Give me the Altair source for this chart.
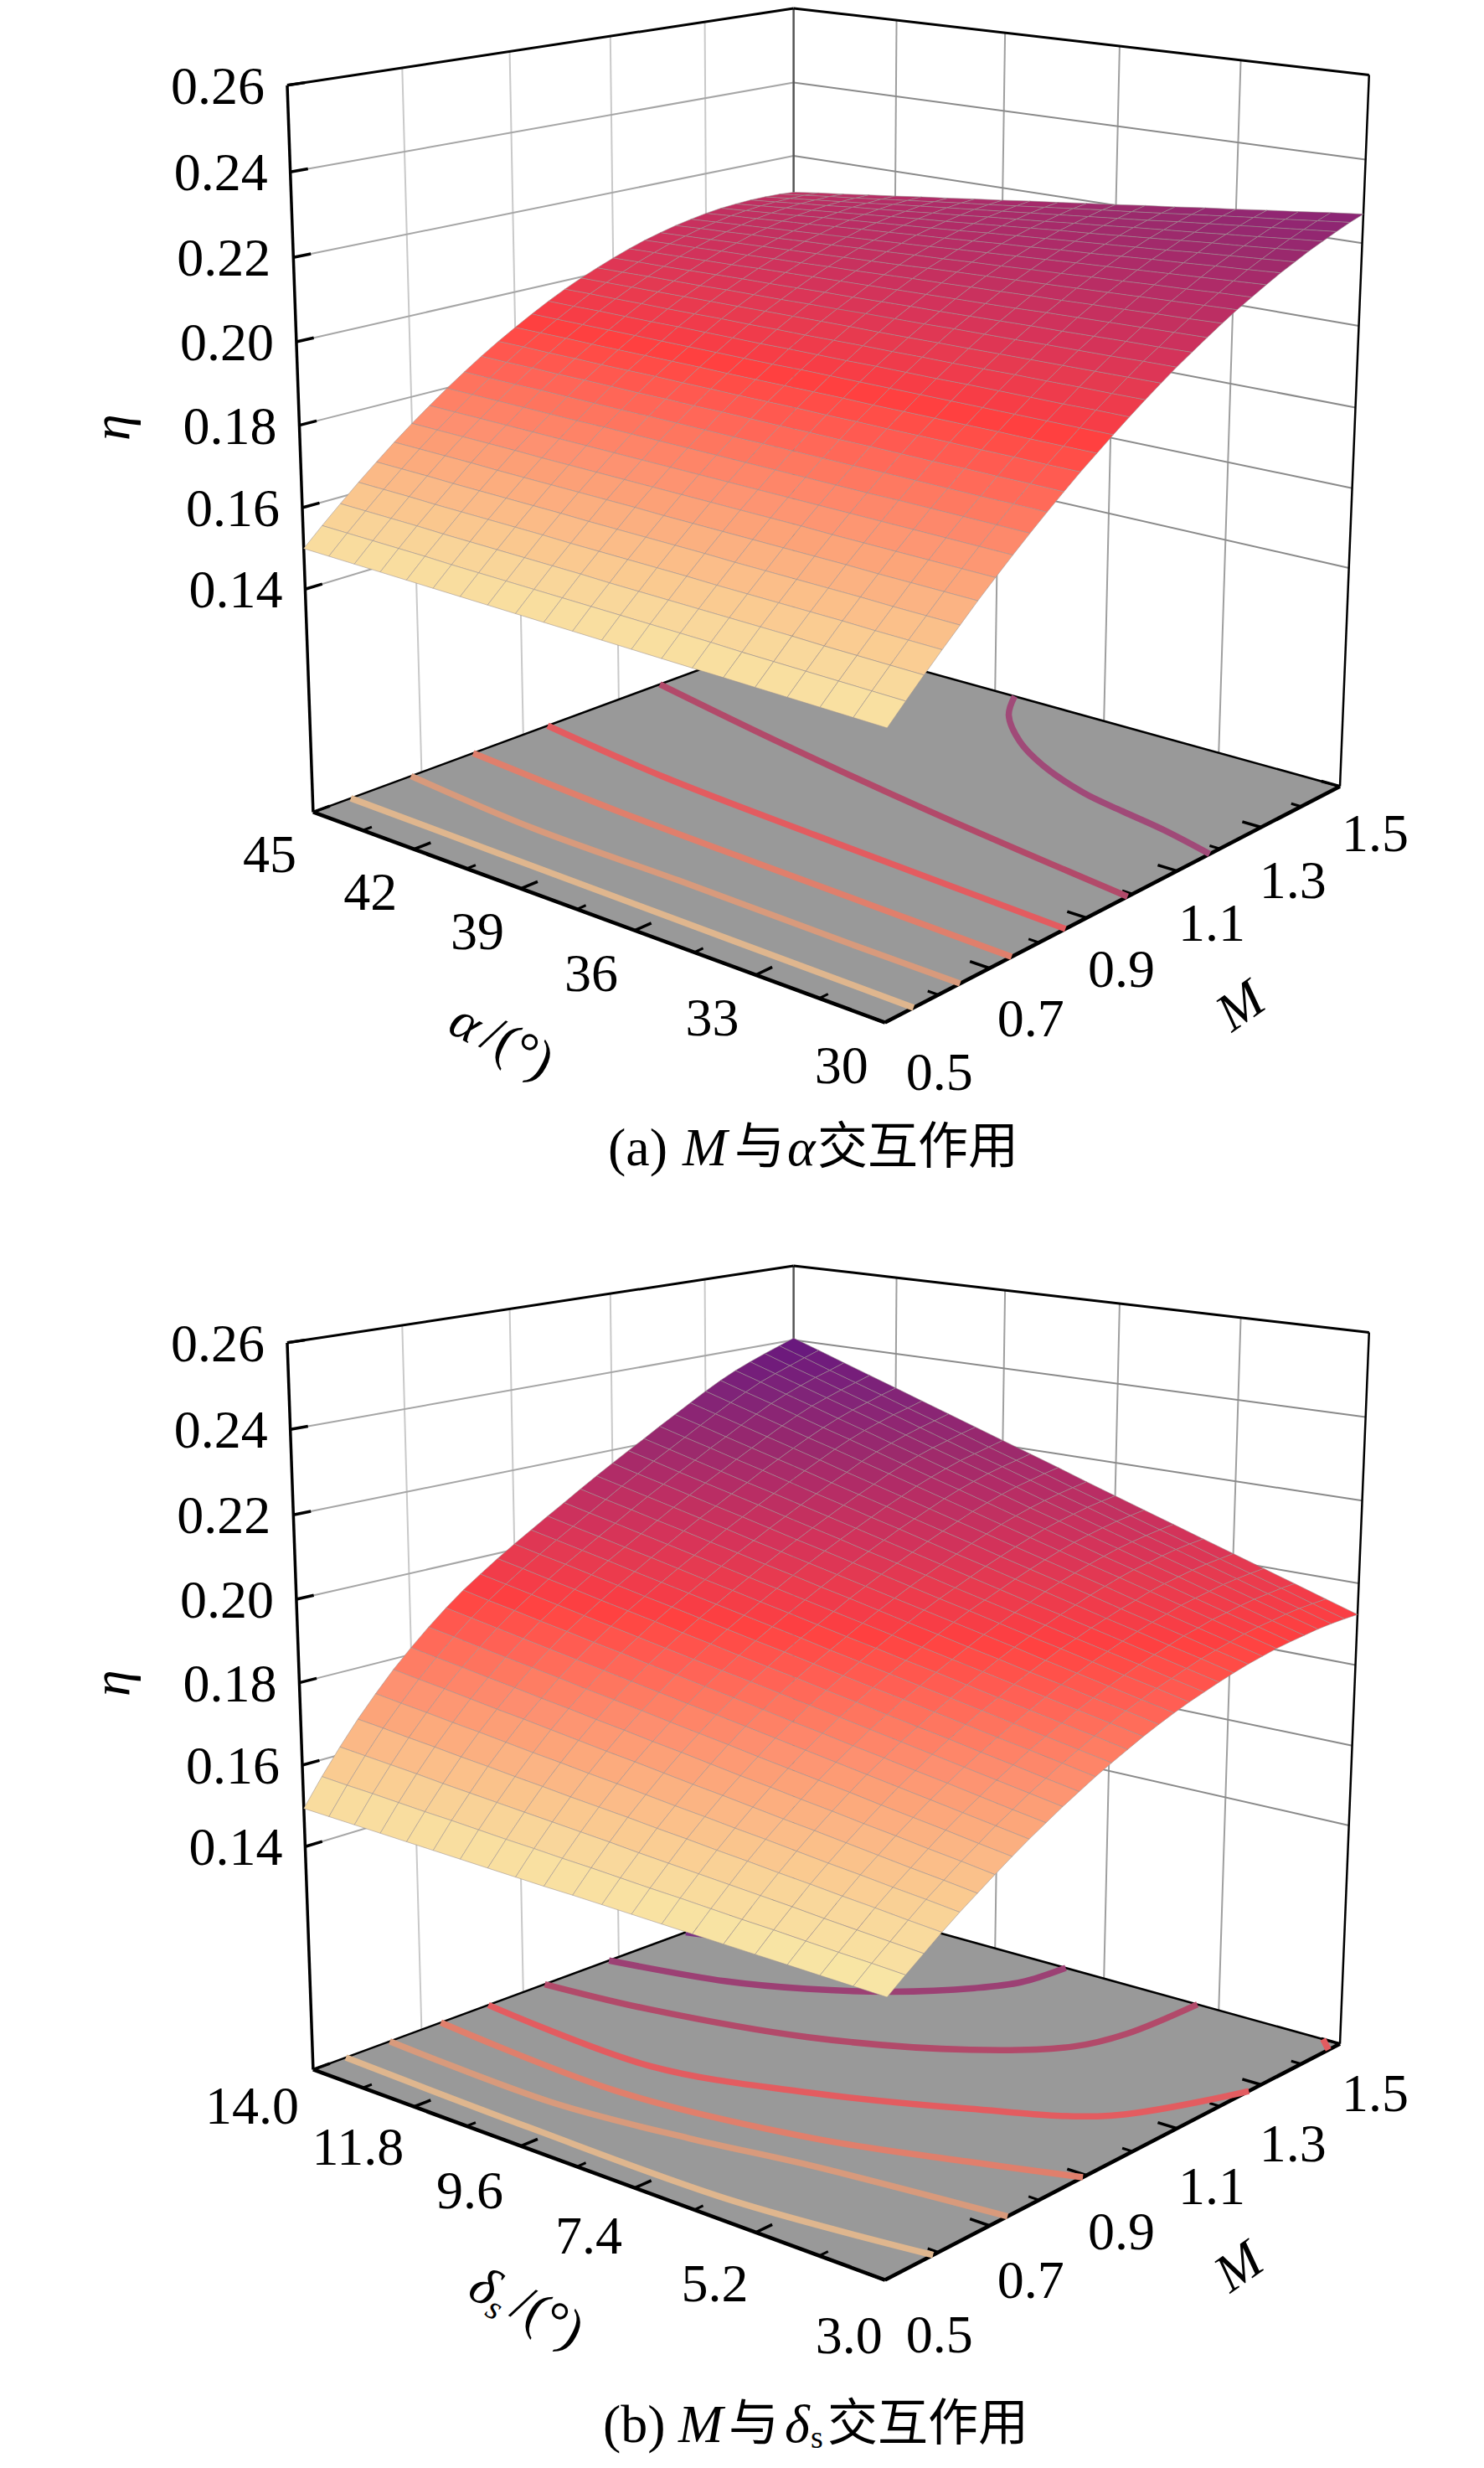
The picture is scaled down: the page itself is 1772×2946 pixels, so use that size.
import numpy as np
import pandas as pd
import altair as alt

# ---------- values ----------
ETA_TICKS = [0.14, 0.16, 0.18, 0.20, 0.22, 0.24, 0.26]
M_TICKS = [0.5, 0.7, 0.9, 1.1, 1.3, 1.5]
ALPHA_TICKS = [45, 42, 39, 36, 33, 30]
DELTA_TICKS = [14.0, 11.8, 9.6, 7.4, 5.2, 3.0]

# eta x 10000. rows: alpha 45 -> 30 (21 rows); columns: M 0.5 -> 1.5 (31 columns)
ETA_A = [
 [1500,1543,1584,1624,1662,1699,1734,1767,1799,1829,1858,1885,1910,1934,1957,1978,1997,2014,2030,2045,2058,2069,2079,2087,2094,2099,2102,2104,2104,2103,2100],
 [1499,1542,1583,1623,1661,1698,1733,1766,1798,1828,1857,1885,1910,1934,1957,1979,1998,2015,2032,2047,2061,2072,2083,2091,2099,2104,2108,2110,2111,2111,2109],
 [1498,1541,1582,1622,1660,1697,1732,1765,1797,1827,1857,1884,1910,1934,1958,1979,1999,2017,2033,2049,2063,2075,2086,2095,2103,2109,2114,2117,2118,2119,2117],
 [1497,1540,1581,1620,1658,1696,1731,1764,1796,1827,1856,1884,1909,1934,1958,1980,2000,2018,2035,2051,2066,2078,2090,2099,2108,2114,2119,2123,2125,2126,2126],
 [1496,1539,1579,1619,1657,1694,1730,1763,1795,1826,1856,1883,1909,1934,1958,1980,2001,2019,2037,2053,2068,2081,2093,2103,2112,2120,2125,2130,2132,2134,2134],
 [1495,1537,1578,1618,1656,1693,1728,1762,1794,1825,1855,1883,1909,1934,1959,1981,2002,2021,2039,2056,2071,2084,2097,2107,2117,2125,2131,2136,2140,2142,2143],
 [1494,1536,1577,1617,1655,1692,1727,1761,1794,1824,1854,1883,1909,1934,1959,1982,2003,2022,2040,2058,2073,2087,2100,2111,2122,2130,2137,2142,2147,2150,2151],
 [1493,1535,1576,1616,1654,1691,1726,1760,1793,1824,1854,1882,1909,1934,1959,1982,2004,2023,2042,2060,2076,2090,2104,2115,2126,2135,2143,2149,2154,2158,2160],
 [1492,1534,1575,1614,1652,1690,1725,1759,1792,1823,1853,1882,1908,1934,1959,1983,2005,2025,2044,2062,2078,2093,2107,2119,2131,2140,2148,2155,2161,2165,2168],
 [1491,1533,1574,1613,1651,1689,1724,1758,1791,1822,1853,1881,1908,1934,1960,1983,2006,2026,2045,2064,2081,2096,2111,2123,2135,2145,2154,2162,2168,2173,2177],
 [1490,1532,1572,1612,1650,1687,1723,1757,1790,1821,1852,1881,1908,1935,1960,1984,2007,2028,2047,2066,2084,2100,2114,2128,2140,2151,2160,2168,2175,2181,2185],
 [1489,1531,1571,1611,1649,1686,1722,1756,1789,1821,1851,1881,1908,1935,1960,1985,2007,2029,2049,2068,2086,2103,2118,2132,2145,2156,2166,2174,2182,2189,2194],
 [1488,1530,1570,1610,1648,1685,1721,1755,1788,1820,1851,1880,1908,1935,1961,1985,2008,2030,2050,2070,2089,2106,2121,2136,2149,2161,2172,2181,2189,2197,2202],
 [1487,1529,1569,1608,1646,1684,1720,1754,1787,1819,1850,1880,1907,1935,1961,1986,2009,2032,2052,2072,2091,2109,2125,2140,2154,2166,2177,2187,2196,2204,2211],
 [1486,1528,1568,1607,1645,1683,1719,1753,1786,1818,1850,1879,1907,1935,1961,1986,2010,2033,2054,2074,2094,2112,2128,2144,2158,2171,2183,2194,2203,2212,2219],
 [1485,1526,1567,1606,1644,1682,1717,1752,1785,1818,1849,1879,1907,1935,1962,1987,2011,2034,2056,2077,2096,2115,2132,2148,2163,2176,2189,2200,2211,2220,2228],
 [1484,1525,1566,1605,1643,1681,1716,1751,1785,1817,1848,1879,1907,1935,1962,1988,2012,2036,2057,2079,2099,2118,2135,2152,2168,2181,2195,2206,2218,2228,2236],
 [1483,1524,1564,1604,1642,1679,1715,1750,1784,1816,1848,1878,1907,1935,1962,1988,2013,2037,2059,2081,2101,2121,2139,2156,2172,2187,2201,2213,2225,2236,2245],
 [1482,1523,1563,1602,1640,1678,1714,1749,1783,1815,1847,1878,1906,1935,1962,1989,2014,2038,2061,2083,2104,2124,2142,2160,2177,2192,2206,2219,2232,2243,2253],
 [1481,1522,1562,1601,1639,1677,1713,1748,1782,1815,1847,1877,1906,1935,1963,1989,2015,2040,2062,2085,2106,2127,2146,2164,2181,2197,2212,2226,2239,2251,2262],
 [1480,1521,1561,1600,1638,1676,1712,1747,1781,1814,1846,1877,1906,1935,1963,1990,2016,2041,2064,2087,2109,2130,2149,2168,2186,2202,2218,2232,2246,2259,2270],
]
# eta x 10000. rows: delta_s 14 -> 3 (21 rows); columns: M 0.5 -> 1.5 (31 columns)
ETA_B = [
 [1494,1559,1619,1675,1726,1774,1817,1857,1894,1928,1958,1987,2014,2040,2066,2091,2117,2142,2166,2190,2213,2237,2260,2283,2306,2327,2346,2362,2377,2391,2405],
 [1492,1555,1614,1669,1718,1765,1807,1847,1883,1916,1946,1975,2001,2027,2052,2077,2102,2127,2150,2174,2196,2219,2242,2264,2286,2306,2325,2340,2354,2368,2381],
 [1490,1552,1609,1662,1711,1757,1798,1836,1872,1905,1934,1962,1989,2014,2039,2063,2088,2112,2135,2157,2179,2202,2223,2245,2266,2286,2303,2318,2332,2344,2357],
 [1488,1548,1604,1656,1703,1748,1788,1826,1861,1893,1922,1950,1976,2001,2025,2049,2073,2097,2119,2141,2162,2184,2205,2226,2246,2265,2282,2296,2309,2321,2333],
 [1486,1544,1598,1649,1696,1739,1779,1816,1850,1882,1910,1937,1963,1987,2012,2035,2059,2082,2103,2125,2145,2167,2187,2207,2226,2244,2260,2274,2286,2298,2309],
 [1484,1541,1593,1643,1688,1731,1769,1806,1839,1870,1898,1925,1950,1974,1998,2021,2044,2067,2088,2109,2129,2149,2169,2188,2207,2224,2239,2252,2264,2274,2285],
 [1482,1537,1588,1636,1680,1722,1760,1795,1828,1859,1886,1913,1938,1961,1984,2007,2030,2051,2072,2092,2112,2131,2150,2168,2187,2203,2217,2230,2241,2251,2261],
 [1480,1533,1583,1630,1673,1713,1750,1785,1817,1847,1874,1900,1925,1948,1971,1993,2015,2036,2056,2076,2095,2114,2132,2149,2167,2182,2196,2208,2218,2228,2237],
 [1478,1530,1578,1623,1665,1704,1741,1775,1806,1836,1862,1888,1912,1935,1957,1979,2001,2021,2041,2060,2078,2096,2114,2130,2147,2161,2174,2186,2195,2204,2213],
 [1476,1526,1573,1617,1658,1696,1731,1764,1795,1824,1850,1875,1899,1922,1944,1965,1986,2006,2025,2043,2061,2079,2095,2111,2127,2141,2153,2164,2173,2181,2189],
 [1475,1523,1568,1611,1650,1687,1722,1754,1785,1813,1839,1863,1887,1909,1930,1951,1972,1991,2010,2027,2044,2061,2077,2092,2107,2120,2132,2142,2150,2158,2165],
 [1473,1519,1562,1604,1642,1678,1712,1744,1774,1801,1827,1851,1874,1895,1916,1937,1957,1976,1994,2011,2027,2043,2059,2073,2087,2099,2110,2119,2127,2134,2140],
 [1471,1515,1557,1598,1635,1670,1702,1733,1763,1789,1815,1838,1861,1882,1903,1923,1942,1961,1978,1994,2010,2026,2040,2054,2067,2079,2089,2097,2105,2111,2116],
 [1469,1512,1552,1591,1627,1661,1693,1723,1752,1778,1803,1826,1848,1869,1889,1909,1928,1946,1963,1978,1993,2008,2022,2035,2047,2058,2067,2075,2082,2087,2092],
 [1467,1508,1547,1585,1620,1652,1683,1713,1741,1766,1791,1813,1836,1856,1876,1895,1913,1931,1947,1962,1976,1991,2004,2016,2027,2037,2046,2053,2059,2064,2068],
 [1465,1504,1542,1578,1612,1644,1674,1703,1730,1755,1779,1801,1823,1843,1862,1881,1899,1916,1931,1946,1960,1973,1986,1997,2008,2017,2024,2031,2037,2041,2044],
 [1463,1501,1537,1572,1604,1635,1664,1692,1719,1743,1767,1789,1810,1830,1848,1867,1884,1900,1916,1929,1943,1955,1967,1977,1988,1996,2003,2009,2014,2017,2020],
 [1461,1497,1531,1565,1597,1626,1655,1682,1708,1732,1755,1776,1797,1816,1835,1853,1870,1885,1900,1913,1926,1938,1949,1958,1968,1975,1981,1987,1991,1994,1996],
 [1459,1493,1526,1559,1589,1617,1645,1672,1697,1720,1743,1764,1785,1803,1821,1839,1855,1870,1884,1897,1909,1920,1931,1939,1948,1954,1960,1965,1968,1971,1972],
 [1457,1490,1521,1552,1582,1609,1636,1661,1686,1708,1731,1751,1772,1790,1808,1825,1841,1855,1869,1880,1892,1903,1912,1920,1928,1934,1938,1943,1946,1947,1948],
 [1455,1486,1516,1546,1574,1600,1626,1651,1675,1697,1719,1739,1759,1777,1794,1811,1826,1840,1853,1864,1875,1885,1894,1901,1908,1913,1917,1921,1923,1924,1924],
]

# floor contours: (M, alpha) and (M, delta_s)
CONTOURS_A = [
 ("#dfb68e", [(.568,45),(.56,37.5),(.553,30)]),
 ("#d89a7c", [(.68,45),(.655,41),(.652,37),(.645,33),(.642,30)]),
 ("#e07f6c", [(.80,45),(.775,40.5),(.762,36.5),(.744,30)]),
 ("#e35c60", [(.95,45),(.91,41),(.885,36.5),(.855,30)]),
 ("#b24a6a", [(1.19,45),(1.12,40.5),(1.053,35.6),(.989,30)]),
 ("#a04a78", [(1.5,38.45),(1.428,37.8),(1.349,36.6),(1.295,35.4),(1.246,33.8),(1.225,32.6),(1.206,31.4),(1.176,30)]),
]
CONTOURS_B = [
 ("#dfb68e", [(.559,14),(.55,10),(.551,6.1),(.59,3)]),
 ("#d89a7c", [(.64,14),(.63,10.4),(.66,8),(.696,6.1),(.736,3)]),
 ("#e07f6c", [(.737,14),(.715,10.0),(.7645,6.7),(.837,4.5),(.892,3)]),
 ("#e35c60", [(.83,14),(.81,10.3),(.881,7.8),(.975,5.7),(1.0775,4),(1.27,3)]),
 ("#b24a6a", [(.944,14),(.968,12),(1.034,9.3),(1.1445,7.1),(1.2485,6),(1.337,5.7),(1.5,5.6)]),
 ("#9c4074", [(1.079,14),(1.127,11.9),(1.18,10.7),(1.252,9.6),(1.343,8.7),(1.408,8.3),(1.5,8.16)]),
 ("#7c3080", [(1.248,14),(1.284,13.1),(1.34,12.5),(1.5,11.8)]),
 ("#e35c60", [(1.47,3),(1.5,3.3)]),
]

COLOR_STOPS = [.145,.155,.165,.175,.185,.192,.200,.210,.220,.230,.240]
COLOR_RANGE = ["#f8e9a8","#f9d79b","#fbb685","#fd8f70","#ff6055","#ff4040","#e63a50",
               "#c23060","#9c2a6c","#802478","#65187e"]

# tick-label nudges
M_LABEL_DX = [9, -4, -9, -6, -7, 0]
M_LABEL_DY_A = [11, 11, 11, 11, 11, 2]
M_LABEL_DY_B = [17, 16, 17, 18, 18, 5]

# ---------- camera: eta/M/angle to picture position, calibrated on the frame ----------
Z0, Z1 = 0.084, 0.26
CAL = [(0,0,Z0,375,972),(0,1,Z0,1055,1227),(1,1,Z0,1598,937),(1,0,Z0,948,766),
       (0,0,Z1,340,104),(1,0,Z1,947,9),(1,1,Z1,1638,94),
       (0,0,.24,344,207),(0,0,.22,350,311),(0,0,.20,355,407),(0,0,.18,359,506),(0,0,.16,363,600),(0,0,.14,366,696),
       (1,1,.24,1632,194),(1,1,.22,1628,292),(1,1,.20,1622,388),(1,1,.18,1618,484),(1,1,.16,1614,579),(1,1,.14,1610,672),
       (1,0,.24,947,98),(1,0,.22,947,184)]
rows, rhs = [], []
for u, w, z, px, py in CAL:
    Z = (z - Z0) / (Z1 - Z0)
    rows.append([u, w, Z, 1, 0, 0, 0, 0, -px*u, -px*w, -px*Z]); rhs.append(px)
    rows.append([0, 0, 0, 0, u, w, Z, 1, -py*u, -py*w, -py*Z]); rhs.append(py)
sol = np.linalg.lstsq(np.array(rows, float), np.array(rhs, float), rcond=None)[0]
P = np.append(sol, 1.0).reshape(3, 4)

def proj(u, w, z, dy=0.0):
    v = P @ np.array([u, w, (z - Z0) / (Z1 - Z0), 1.0])
    return float(v[0] / v[2]), float(v[1] / v[2] + dy)

PANEL_DY = 1501
W, H = 1756, 2930
OFF = 8
X = alt.X("x:Q", scale=alt.Scale(domain=[OFF, OFF + W], nice=False, zero=False), axis=None)
Y = alt.Y("y:Q", scale=alt.Scale(domain=[OFF + H, OFF], nice=False, zero=False), axis=None)

lines, curves, floors, cells, texts = [], [], [], [], []
lid = [0]

def seg(p, q, color, width):
    lid[0] += 1
    for i, pt in enumerate((p, q)):
        lines.append(dict(id=lid[0], i=i, x=pt[0], y=pt[1], c=color, w=width))

def poly(pts, **props):
    ring = [list(p) for p in pts] + [list(pts[0])]
    return {"type": "Feature", "properties": props, "geometry": {"type": "Polygon", "coordinates": [ring]}}

def text(t, x, y, font="Liberation Serif", style="normal", size=64, angle=0, align="center"):
    texts.append(dict(t=t, x=x, y=y, font=font, style=style, size=size, angle=angle, align=align))

def panel(eta, contours, ang_ticks, ang_fmt, ang_w, dy, ang_off, m_dy):
    pr = lambda u, w, z: proj(u, w, z, dy)
    floors.append(poly([pr(0,0,Z0), pr(0,1,Z0), pr(1,1,Z0), pr(1,0,Z0)]))
    # walls
    for m in M_TICKS[1:-1]:
        u = m - 0.5
        seg(pr(u,0,Z0), pr(u,0,Z1), "#c9c9c9", 2)
    for a in ang_ticks[1:-1]:
        w = ang_w(a)
        seg(pr(1,w,Z0), pr(1,w,Z1), "#9f9f9f", 2)
    for z in ETA_TICKS[:-1]:
        seg(pr(0,0,z), pr(1,0,z), "#a6a6a6", 2)
        seg(pr(1,0,z), pr(1,1,z), "#8a8a8a", 2)
    seg(pr(1,0,Z0), pr(1,0,Z1), "#555555", 2.5)
    # contours
    for c, pts in contours:
        lid[0] += 1
        for i, (m, a) in enumerate(pts):
            x, y = pr(m - 0.5, ang_w(a), Z0)
            curves.append(dict(id=lid[0], i=i, x=x, y=y, c=c))
    # frame
    seg(pr(0,0,Z0), pr(0,0,Z1), "#000000", 3.5)
    seg(pr(1,1,Z0), pr(1,1,Z1), "#000000", 2.5)
    seg(pr(0,0,Z1), pr(1,0,Z1), "#000000", 3)
    seg(pr(1,0,Z1), pr(1,1,Z1), "#000000", 3)
    seg(pr(0,0,Z0), pr(1,0,Z0), "#000000", 2.5)
    seg(pr(1,0,Z0), pr(1,1,Z0), "#000000", 2.5)
    seg(pr(0,0,Z0), pr(0,1,Z0), "#000000", 4.5)
    seg(pr(0,1,Z0), pr(1,1,Z0), "#000000", 4.5)
    # ticks and tick labels
    for z in ETA_TICKS:
        seg(pr(0,0,z), pr(0.03,0,z), "#000000", 3.5)
        x, y = pr(0,0,z)
        text(f"{z:.2f}", x - 27, y + 3, align="right")
    for k, a in enumerate(ang_ticks):
        w = ang_w(a)
        seg(pr(0,w,Z0), pr(0.03,w,Z0), "#000000", 3.5)
        if k < 5:
            w2 = w + 0.1
            seg(pr(0,w2,Z0), pr(0.016,w2,Z0), "#000000", 3)
        x, y = pr(0,w,Z0)
        ox, oy = ang_off(w)
        text(ang_fmt(a), x + ox, y + oy)
    for k, m in enumerate(M_TICKS):
        u = m - 0.5
        seg(pr(u,1,Z0), pr(u,0.97,Z0), "#000000", 3.5)
        if k < 5:
            seg(pr(u+0.1,1,Z0), pr(u+0.1,0.984,Z0), "#000000", 3)
        x, y = pr(u,1,Z0)
        text(f"{m:.1f}", x + 56 - 14*u + M_LABEL_DX[k], y + 50 + 6*u + m_dy[k])
    # surface, far cells first
    n_w, n_u = len(eta), len(eta[0])
    for iu in range(n_u - 2, -1, -1):
        for iw in range(n_w - 1):
            u0, u1 = iu / (n_u - 1), (iu + 1) / (n_u - 1)
            w0, w1 = iw / (n_w - 1), (iw + 1) / (n_w - 1)
            z00, z10 = eta[iw][iu] / 1e4, eta[iw][iu+1] / 1e4
            z11, z01 = eta[iw+1][iu+1] / 1e4, eta[iw+1][iu] / 1e4
            cells.append(poly([pr(u0,w0,z00), pr(u1,w0,z10), pr(u1,w1,z11), pr(u0,w1,z01)],
                              eta=(z00+z10+z11+z01)/4))

panel(ETA_A, CONTOURS_A, ALPHA_TICKS, lambda a: f"{a:d}", lambda a: (45 - a) / 15, 0,
      lambda w: (-52, 53), M_LABEL_DY_A)
panel(ETA_B, CONTOURS_B, DELTA_TICKS, lambda a: f"{a:.1f}", lambda a: (14 - a) / 11, PANEL_DY,
      lambda w: (-73 + 30*w, 46 + 22*w), M_LABEL_DY_B)

ITAL, SERIF, CJK = "italic", "normal", "Noto Sans CJK SC"
# axis titles
text("η", 135, 510, style=ITAL, angle=270)
text("η", 135, 2009, style=ITAL, angle=270)
text("M", 1482, 1202, style=ITAL, angle=325)
text("M", 1480, 2707, style=ITAL, angle=325)
text("α", 556, 1222, style=ITAL, angle=28)
text("/(°)", 618, 1252, angle=28)
text("δ", 578, 2731, style=ITAL, angle=28)
text("s", 590, 2756, style=ITAL, size=40, angle=28)
text("/(°)", 654, 2767, angle=28)
# captions
def caption(parts, y):
    for t, x, kind in parts:
        if kind == "cjk":
            text(t, x, y, font=CJK, size=60, align="left")
        elif kind == "it":
            text(t, x, y + 1, style=ITAL, align="left")
        elif kind == "sub":
            text(t, x, y + 16, size=38, align="left")
        else:
            text(t, x, y + 1, align="left")
caption([("(a)", 726, "txt"), ("M", 815, "it"), ("与", 877, "cjk"), ("α", 940, "it"),
         ("交互作用", 976, "cjk")], 1371)
caption([("(b)", 720, "txt"), ("M", 810, "it"), ("与", 870, "cjk"), ("δ", 937, "it"),
         ("s", 968, "sub"), ("交互作用", 988, "cjk")], 2895)

# ---------- chart ----------
PROJ = dict(type="identity", scale=1, translate=[-OFF, -OFF])
floor_layer = alt.Chart(alt.Data(values=floors)).mark_geoshape(
    fill="#999999", stroke="#999999", strokeWidth=0.5).project(**PROJ)
line_layer = alt.Chart(pd.DataFrame(lines)).mark_line(strokeCap="butt").encode(
    x=X, y=Y, detail="id:N", order="i:Q",
    stroke=alt.Stroke("c:N", scale=None), strokeWidth=alt.StrokeWidth("w:Q", scale=None))
curve_layer = alt.Chart(pd.DataFrame(curves)).mark_line(
    interpolate="catmull-rom", strokeWidth=7.5, strokeCap="butt").encode(
    x=X, y=Y, detail="id:N", order="i:Q", stroke=alt.Stroke("c:N", scale=None))
surface_layer = alt.Chart(alt.Data(values=cells)).mark_geoshape(
    stroke="#9a9090", strokeWidth=1, strokeOpacity=0.55).encode(
    fill=alt.Fill("properties.eta:Q", legend=None,
                  scale=alt.Scale(domain=COLOR_STOPS, range=COLOR_RANGE, clamp=True))
).project(**PROJ)

layers = [floor_layer, line_layer, curve_layer, surface_layer]
tdf = pd.DataFrame(texts)
for (font, style, size, angle, align), g in tdf.groupby(["font", "style", "size", "angle", "align"]):
    layers.append(alt.Chart(g[["t", "x", "y"]]).mark_text(
        font=font, fontStyle=style, fontSize=int(size), angle=int(angle), align=align,
        baseline="middle", color="#000000").encode(x=X, y=Y, text="t:N"))

chart = alt.layer(*layers).properties(
    width=W, height=H, padding=0, background="white",
    autosize=alt.AutoSizeParams(type="none")
).configure_view(stroke=None)
chart.save("out.html", embed_options={"renderer": "svg", "actions": False})
